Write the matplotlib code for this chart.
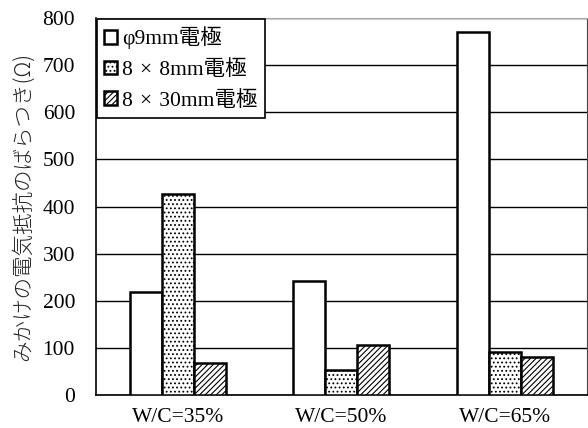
import matplotlib
matplotlib.use('Agg')
import matplotlib.pyplot as plt
import numpy as np

categories = ['W/C=35%', 'W/C=50%', 'W/C=65%']
series_names = ['\u03c69mm電極', '8\u2004\u00d7\u20048mm電極', '8\u2004\u00d7\u200430mm電極']
phi9 = [219, 243, 770]
sq8x8 = [426, 53, 92]
sq8x30 = [68, 107, 80]
yticks = [0, 100, 200, 300, 400, 500, 600, 700, 800]

plt.rcParams['font.family'] = ['Liberation Serif', 'Noto Sans CJK JP']
plt.rcParams['hatch.linewidth'] = 0.8

fig = plt.figure(figsize=(5.88, 4.28), dpi=100)
ax = fig.add_axes([0.163, 0.077, 0.835, 0.881])

x = np.arange(len(categories))
w = 0.196
hatches = ['', '....', '//////']
for i, (vals, name) in enumerate(zip([phi9, sq8x8, sq8x30], series_names)):
    ax.bar(x + (i - 1) * w, vals, w, color='white', edgecolor='black',
           linewidth=1.8, hatch=hatches[i], label=name, zorder=3)

ax.set_ylim(0, 800)
ax.set_xlim(-0.5, 2.5)
ax.set_yticks(yticks)
ax.set_xticks(x)
ax.set_xticklabels(categories, fontsize=15.5)
ax.tick_params(axis='y', labelsize=15.5, length=0, pad=15)
ax.tick_params(axis='x', length=0, pad=9)
ax.yaxis.grid(True, color='black', linewidth=1)
ax.set_axisbelow(True)

ax.spines['left'].set_linewidth(1.2)
ax.spines['bottom'].set_linewidth(1.2)
ax.spines['right'].set_color('#444444')
ax.spines['top'].set_color('#aaaaaa')

ax.set_ylabel('みかけの電気抵抗のばらつき(Ω)', fontsize=15.5, color='#222222',
              family=['Noto Sans CJK JP', 'DejaVu Sans'], fontweight='light', labelpad=6)

leg = ax.legend(loc='upper left', frameon=True, fancybox=False,
                edgecolor='black', borderaxespad=0.05, handlelength=0.6,
                handleheight=0.6, handletextpad=0.2, labelspacing=0.5,
                borderpad=0.35,
                prop={'family': ['Liberation Serif', 'Noto Sans CJK JP'], 'size': 15.5})
leg.get_frame().set_linewidth(1.2)
leg.get_frame().set_alpha(1)

fig.savefig('out.png', dpi=100)
